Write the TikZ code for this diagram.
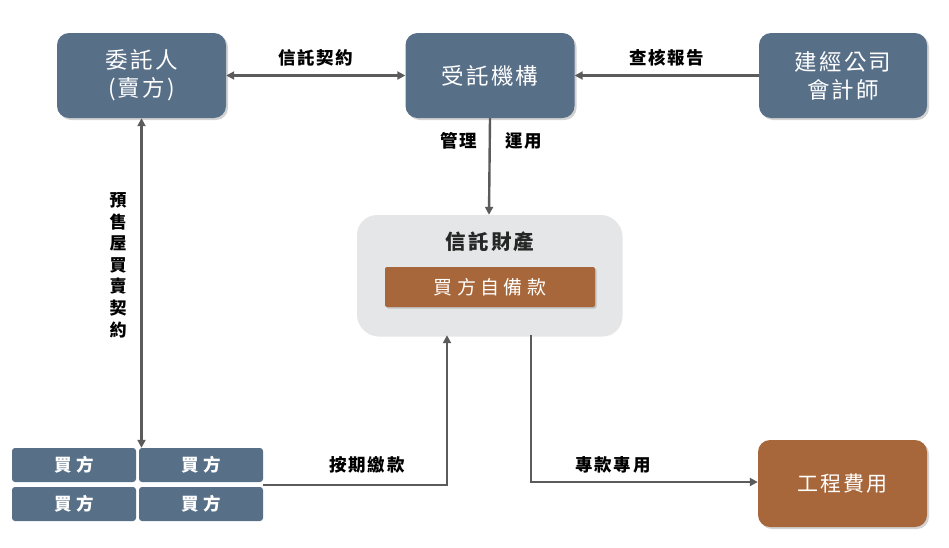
\documentclass[tikz,border=0pt]{standalone}
\usepackage{fontspec}
\setmainfont{Noto Sans CJK TC}
\newfontfamily\spaced[LetterSpace=10]{Noto Sans CJK TC}
\usetikzlibrary{shadows,arrows.meta}
\definecolor{slate}{HTML}{586F88}
\definecolor{brown}{HTML}{A8673A}
\definecolor{trustgray}{HTML}{E5E6E7}
\definecolor{linegray}{HTML}{5B5B5B}
\tikzset{
  bluebox/.style={draw=none,fill=slate,rounded corners=12pt,text=white,align=center,
    font=\spaced\fontsize{22.5}{28}\selectfont,minimum width=169pt,minimum height=85pt,inner sep=0pt,
    drop shadow={opacity=0.35,shadow xshift=2pt,shadow yshift=-2pt}},
  brownbox/.style={bluebox,fill=brown},
  buyerbox/.style={draw=none,fill=slate,rounded corners=3pt,text=white,
    font=\bfseries\fontsize{17.5}{18}\selectfont,minimum width=124pt,minimum height=34pt,inner sep=0pt},
  conn/.style={draw=linegray,line width=2.4pt},
  tip/.style={-{Triangle[length=8pt,width=8pt]}},
  dtip/.style={{Triangle[length=8pt,width=8pt]}-{Triangle[length=8pt,width=8pt]}},
  lbl/.style={font=\spaced\bfseries\fontsize{17.5}{20}\selectfont,text=black,inner sep=0pt}
}
\begin{document}
\begin{tikzpicture}[x=1pt,y=-1pt]
\useasboundingbox (0,0) rectangle (949,547);
% top row
\node[bluebox] (client) at (141.5,75.5) {委託人\\(賣方)};
\node[bluebox] (trustee) at (490,75.5) {受託機構};
\node[bluebox,minimum width=168pt] (cpa) at (843,75.5) {建經公司\\會計師};
% trust property
\node[fill=trustgray,rounded corners=20pt,minimum width=264pt,minimum height=120pt,inner sep=0pt,
  drop shadow={opacity=0.2,shadow xshift=1.5pt,shadow yshift=-1.5pt}] (trust) at (489,275) {};
\node[font=\spaced\bfseries\fontsize{20.5}{22}\selectfont,text=black!85,inner sep=0pt] (trusttitle) at (490,242) {信託財產};
\node[fill=brown,rounded corners=2pt,minimum width=210pt,minimum height=40pt,inner sep=0pt,text=white,
  font=\fontsize{19}{20}\selectfont,
  drop shadow={opacity=0.35,shadow xshift=1.5pt,shadow yshift=-1.5pt}] (own) at (490,287) {買\ 方\ 自\ 備\ 款};
% cost
\node[brownbox,minimum height=87pt,font=\spaced\fontsize{21}{26}\selectfont] (cost) at (842.5,483.5) {工程費用};
% buyers
\node[buyerbox] (b1) at (74,465) {買\ 方};
\node[buyerbox] (b2) at (201,465) {買\ 方};
\node[buyerbox] (b3) at (74,504) {買\ 方};
\node[buyerbox] (b4) at (201,504) {買\ 方};
% connectors
\draw[conn,dtip] (client.east) -- (trustee.west)
  node[lbl,midway,above=8pt] (l1) {信託契約};
\draw[conn,tip] (cpa.west) -- (trustee.east)
  node[lbl,midway,above=8pt] (l2) {查核報告};
\draw[conn,tip] (trustee.south) -- (trust.north);
\node[lbl] (l3) at (459,141) {管理};
\node[lbl] (l4) at (524,141) {運用};
\draw[conn,dtip] (client.south) -- (client.south |- b1.north);
\node[lbl,align=center,font=\bfseries\fontsize{17}{21.6}\selectfont] (l5) at (118,265) {預\\售\\屋\\買\\賣\\契\\約};
\coordinate (payfrom) at (263,485);
\draw[conn,tip] (payfrom) -| ([xshift=-42pt]trust.south);
\node[lbl] (l6) at (367,465) {按期繳款};
\draw[conn,tip] ([xshift=42pt]trust.south) |- ([yshift=1.5pt]cost.west);
\node[lbl] (l7) at (613,465) {專款專用};
\end{tikzpicture}
\end{document}
